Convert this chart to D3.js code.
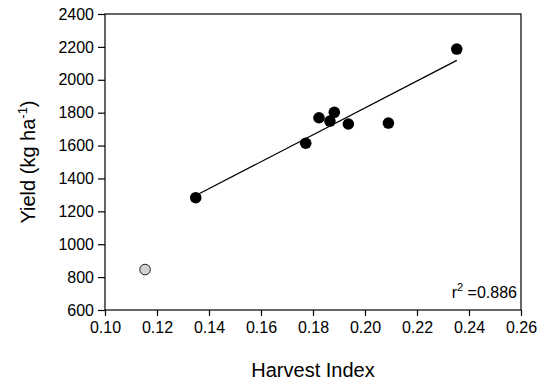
<!DOCTYPE html>
<html>
<head>
<meta charset="utf-8">
<script src="https://cdn.jsdelivr.net/npm/d3@7"></script>
<style>
  html, body { margin: 0; padding: 0; background: #fff; overflow: hidden; }
  svg { display: block; }
  text { font-family: "Liberation Sans", Arial, sans-serif; fill: #000; }
</style>
</head>
<body>
<script>
// harvest index vs yield, black = included in fit
const harvestIndex = [0.1349, 0.1772, 0.1823, 0.1882, 0.1865, 0.1936, 0.2090, 0.2353];
const yieldVals = [1283, 1614, 1769, 1802, 1749, 1731, 1737, 2187];
// outlier (grey)
const outlierHI = [0.1154];
const outlierYield = [846];
// regression line end points
const fitHI = [0.1349, 0.2353];
const fitYield = [1296, 2118];

const xTicks = [0.10, 0.12, 0.14, 0.16, 0.18, 0.20, 0.22, 0.24, 0.26];
const yTicks = [600, 800, 1000, 1200, 1400, 1600, 1800, 2000, 2200, 2400];

const w = 545, h = 384;
const margin = { top: 14, right: 24, bottom: 74, left: 105 };
const innerWidth = w - margin.left - margin.right;
const innerHeight = h - margin.top - margin.bottom;

const svg = d3.select("body").append("svg")
  .attr("width", w)
  .attr("height", h);

const g = svg.append("g")
  .attr("transform", `translate(${margin.left},${margin.top})`);

const xScale = d3.scaleLinear().domain([0.10, 0.26]).range([0, innerWidth]);
const yScale = d3.scaleLinear().domain([600, 2400]).range([innerHeight, 0]);

// frame
g.append("rect")
  .attr("x", 0).attr("y", 0)
  .attr("width", innerWidth).attr("height", innerHeight)
  .attr("fill", "none").attr("stroke", "#000").attr("stroke-width", 1.2);

const xAxis = d3.axisBottom(xScale).tickValues(xTicks)
  .tickFormat(d3.format(".2f")).tickSize(6).tickSizeOuter(0).tickPadding(6);
const yAxis = d3.axisLeft(yScale).tickValues(yTicks)
  .tickFormat(d3.format("d")).tickSize(7).tickSizeOuter(0).tickPadding(4);

const xAxisG = g.append("g")
  .attr("transform", `translate(0,${innerHeight})`)
  .call(xAxis);
const yAxisG = g.append("g").call(yAxis);

[xAxisG, yAxisG].forEach(a => {
  a.select(".domain").remove();
  a.selectAll("line").attr("stroke", "#000").attr("stroke-width", 1.2);
  a.selectAll("text")
    .style("font-family", '"Liberation Sans", Arial, sans-serif')
    .style("font-size", "16px")
    .attr("fill", "#000");
});

// fit line
const fitData = fitHI.map((x, i) => ({ x: x, y: fitYield[i] }));
g.append("path")
  .datum(fitData)
  .attr("fill", "none")
  .attr("stroke", "#000")
  .attr("stroke-width", 1.3)
  .attr("d", d3.line().x(d => xScale(d.x)).y(d => yScale(d.y)));

// points
const pts = harvestIndex.map((x, i) => ({ x: x, y: yieldVals[i] }));
g.selectAll(".pt")
  .data(pts)
  .enter()
  .append("circle")
  .attr("class", "pt")
  .attr("cx", d => xScale(d.x))
  .attr("cy", d => yScale(d.y))
  .attr("r", 5.8)
  .attr("fill", "#000");

const outl = outlierHI.map((x, i) => ({ x: x, y: outlierYield[i] }));
g.selectAll(".out")
  .data(outl)
  .enter()
  .append("circle")
  .attr("class", "out")
  .attr("cx", d => xScale(d.x))
  .attr("cy", d => yScale(d.y))
  .attr("r", 5.3)
  .attr("fill", "#d3d3d3")
  .attr("stroke", "#222")
  .attr("stroke-width", 1);

// r squared
const r2 = g.append("text")
  .attr("x", innerWidth - 4)
  .attr("y", innerHeight - 12)
  .attr("text-anchor", "end")
  .style("font-size", "16px");
r2.append("tspan").text("r");
r2.append("tspan").attr("dy", -7).style("font-size", "11px").text("2");
r2.append("tspan").attr("dy", 7).text(" =0.886");

// axis labels
svg.append("text")
  .attr("x", margin.left + innerWidth / 2)
  .attr("y", 377)
  .attr("text-anchor", "middle")
  .style("font-size", "20px")
  .text("Harvest Index");

const yl = svg.append("text")
  .attr("transform", `translate(35,${margin.top + innerHeight / 2}) rotate(-90)`)
  .attr("text-anchor", "middle")
  .style("font-size", "20px");
yl.append("tspan").text("Yield (kg ha");
yl.append("tspan").attr("dy", -8).style("font-size", "13px").text("-1");
yl.append("tspan").attr("dy", 8).text(")");
</script>
</body>
</html>
